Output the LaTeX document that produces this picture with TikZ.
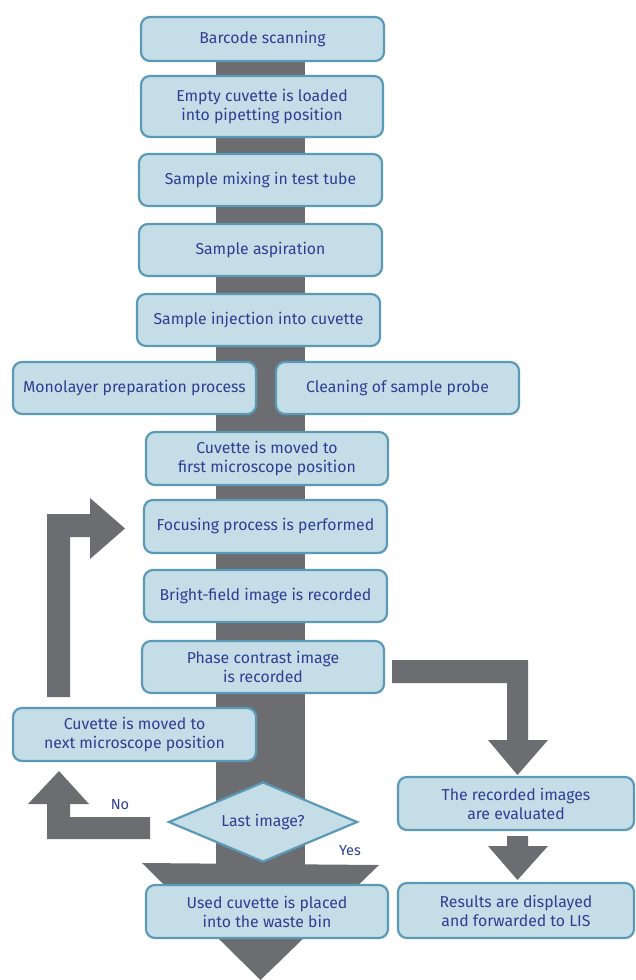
\documentclass[tikz,border=0pt]{standalone}
\usepackage{fontspec}
\setmainfont{Fira Sans}
\usetikzlibrary{shapes.geometric,backgrounds}
\definecolor{boxfill}{HTML}{C5DDE6}
\definecolor{boxline}{HTML}{5B9AB6}
\definecolor{txtblue}{HTML}{2E3F93}
\definecolor{arrgray}{HTML}{6C6D71}
\begin{document}
\begin{tikzpicture}[x=1pt,y=-1pt,
  stepbox/.style={draw=boxline, fill=boxfill, line width=2.2pt, rounded corners=9pt,
    text=txtblue, align=center, inner sep=0pt, font=\fontsize{15.8}{19}\selectfont},
  decision/.style={shape=diamond, aspect=2.4, draw=boxline, fill=boxfill, line width=2.2pt,
    text=txtblue, inner sep=0pt, minimum width=189pt, minimum height=80pt,
    font=\fontsize{15.8}{19}\selectfont},
  lbl/.style={text=txtblue, inner sep=0pt, font=\fontsize{14.5}{17}\selectfont},
  fat/.style={fill=arrgray, draw=none}]
\useasboundingbox (0,0) rectangle (635,980);

\node[stepbox, minimum width=243pt, minimum height=44pt] (barcode) at (262.5,39) {Barcode scanning};
\node[stepbox, minimum width=242pt, minimum height=61pt] (empty) at (262,106.5) {Empty cuvette is loaded\\into pipetting position};
\node[stepbox, minimum width=243pt, minimum height=52pt] (mixing) at (260.5,180) {Sample mixing in test tube};
\node[stepbox, minimum width=243pt, minimum height=52pt] (aspir) at (260.5,250) {Sample aspiration};
\node[stepbox, minimum width=243pt, minimum height=52pt] (inject) at (258.5,320) {Sample injection into cuvette};
\node[stepbox, minimum width=243pt, minimum height=52pt] (mono) at (134.5,388) {Monolayer preparation process};
\node[stepbox, minimum width=243pt, minimum height=52pt] (clean) at (397.5,388) {Cleaning of sample probe};
\node[stepbox, minimum width=242pt, minimum height=53pt] (first) at (267,458.5) {Cuvette is moved to\\first microscope position};
\node[stepbox, minimum width=243pt, minimum height=53pt] (focus) at (265.5,526.5) {Focusing process is performed};
\node[stepbox, minimum width=243pt, minimum height=52pt] (bright) at (265.5,596) {Bright-field image is recorded};
\node[stepbox, minimum width=242pt, minimum height=52pt] (phase) at (263,667) {Phase contrast image\\is recorded};
\node[stepbox, minimum width=243pt, minimum height=53pt] (next) at (134.5,734.5) {Cuvette is moved to\\next microscope position};
\node[decision] (last) at (263,822) {Last image?};
\node[stepbox, minimum width=242pt, minimum height=53pt] (waste) at (267,911.5) {Used cuvette is placed\\into the waste bin};
\node[stepbox, minimum width=236pt, minimum height=53pt] (eval) at (516,803.5) {The recorded images\\are evaluated};
\node[stepbox, minimum width=236pt, minimum height=55pt] (results) at (516,910.5) {Results are displayed\\and forwarded to LIS};

\node[lbl] (no) at (120,805) {No};
\node[lbl] (yes) at (350,851) {Yes};

\begin{scope}[on background layer]
  % main vertical flow bar with arrow head
  \fill[fat] (216,61) rectangle (305,865);
  \fill[fat] (142,863) -- (379,865) -- (260.5,980) -- cycle;
  % loop back arrow to focusing
  \fill[fat] (47,697) -- (47,514) -- (90,514) -- (90,498) -- (125,528.5) -- (90,559)
     -- (90,537) -- (70,537) -- (70,697) -- cycle;
  % "No" arrow
  \fill[fat] (150,817) -- (150,839) -- (47,839) -- (47,804) -- (28,804) -- (59,771)
     -- (89,804) -- (70,804) -- (70,817) -- cycle;
  % right arrow from phase contrast to evaluation
  \fill[fat] (392,660) -- (528,660) -- (528,740) -- (548,740) -- (517.5,775)
     -- (488,740) -- (507,740) -- (507,683) -- (392,683) -- cycle;
  % evaluation to results
  \fill[fat] (507,836) -- (528,836) -- (528,846) -- (548,846) -- (517.5,880)
     -- (488,846) -- (507,846) -- cycle;
\end{scope}
\end{tikzpicture}
\end{document}
